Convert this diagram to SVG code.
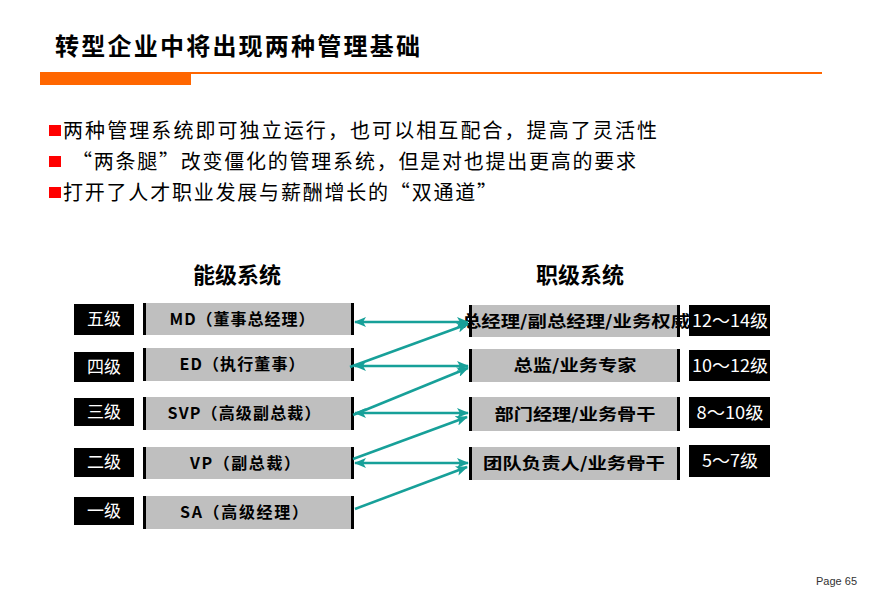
<svg xmlns="http://www.w3.org/2000/svg" width="870" height="592" viewBox="0 0 870 592">
<defs>
<style>
.t{font-family:"Noto Sans CJK SC","Liberation Serif",serif;}
.title{font-size:24px;fill:#000;font-weight:bold;}
.bul{font-size:20px;fill:#000;}
.head{font-size:22px;font-weight:bold;fill:#000;}
.lbl{font-size:17px;fill:#fff;}
.box{font-size:16px;font-weight:bold;fill:#000;}
.gray{fill:#bfbfbf;}
.blk{fill:#000;}
.bar{fill:#000;}
.conn{stroke:#17a099;stroke-width:2.5;fill:none;}
</style>
<marker id="ah" viewBox="0 0 12 10" refX="11" refY="5" markerWidth="12" markerHeight="10" markerUnits="userSpaceOnUse" orient="auto-start-reverse">
<path d="M0,0 L12,5 L0,10 L3,5 z" fill="#17a099"/>
</marker>
</defs>
<rect width="870" height="592" fill="#fff"/>
<g id="header">
<text class="t title" x="55" y="55" textLength="365" lengthAdjust="spacing">转型企业中将出现两种管理基础</text>
<rect x="40" y="72" width="782" height="2" fill="#ff6600"/>
<rect x="40" y="72" width="151" height="13" fill="#ff6600"/>
</g>
<g id="bullets">
<rect x="49" y="125" width="12" height="11" fill="#ff0000"/>
<text class="t bul" x="63" y="138" textLength="594" lengthAdjust="spacing">两种管理系统即可独立运行，也可以相互配合，提高了灵活性</text>
<rect x="49" y="156" width="12" height="11" fill="#ff0000"/>
<text class="t bul" x="72" y="169" textLength="564" lengthAdjust="spacing">“两条腿”改变僵化的管理系统，但是对也提出更高的要求</text>
<rect x="49" y="187" width="12" height="11" fill="#ff0000"/>
<text class="t bul" x="63" y="200" textLength="434" lengthAdjust="spacing">打开了人才职业发展与薪酬增长的“双通道”</text>
</g>
<g id="headings">
<text class="t head" x="237" y="283" text-anchor="middle">能级系统</text>
<text class="t head" x="580" y="283" text-anchor="middle">职级系统</text>
</g>
<g id="left-levels">
<g id="lvl5"><rect class="blk" x="74" y="304" width="60" height="31"/><text class="t lbl" x="104" y="325" text-anchor="middle">五级</text></g>
<g id="lvl4"><rect class="blk" x="74" y="352" width="60" height="30"/><text class="t lbl" x="104" y="373" text-anchor="middle">四级</text></g>
<g id="lvl3"><rect class="blk" x="74" y="398" width="60" height="28"/><text class="t lbl" x="104" y="418" text-anchor="middle">三级</text></g>
<g id="lvl2"><rect class="blk" x="74" y="448" width="60" height="29"/><text class="t lbl" x="104" y="468" text-anchor="middle">二级</text></g>
<g id="lvl1"><rect class="blk" x="74" y="497" width="60" height="28"/><text class="t lbl" x="104" y="517" text-anchor="middle">一级</text></g>
</g>
<g id="left-boxes">
<g id="md"><rect class="gray" x="144" y="303" width="209" height="32"/><rect class="bar" x="143" y="303" width="3" height="32"/><rect class="bar" x="351" y="303" width="3" height="32"/><text class="t box" x="242" y="325" text-anchor="middle" textLength="145" lengthAdjust="spacing">MD（董事总经理）</text></g>
<g id="ed"><rect class="gray" x="144" y="348" width="209" height="33"/><rect class="bar" x="143" y="348" width="3" height="33"/><rect class="bar" x="351" y="348" width="3" height="33"/><text class="t box" x="242" y="370" text-anchor="middle" textLength="125" lengthAdjust="spacing">ED（执行董事）</text></g>
<g id="svp"><rect class="gray" x="144" y="397" width="209" height="33"/><rect class="bar" x="143" y="397" width="3" height="33"/><rect class="bar" x="351" y="397" width="3" height="33"/><text class="t box" x="244" y="419" text-anchor="middle" textLength="153" lengthAdjust="spacing">SVP（高级副总裁）</text></g>
<g id="vp"><rect class="gray" x="144" y="447" width="209" height="32"/><rect class="bar" x="143" y="447" width="3" height="32"/><rect class="bar" x="351" y="447" width="3" height="32"/><text class="t box" x="245" y="469" text-anchor="middle" textLength="110" lengthAdjust="spacing">VP（副总裁）</text></g>
<g id="sa"><rect class="gray" x="144" y="496" width="209" height="33"/><rect class="bar" x="143" y="496" width="3" height="33"/><rect class="bar" x="351" y="496" width="3" height="33"/><text class="t box" x="244" y="518" text-anchor="middle" textLength="128" lengthAdjust="spacing">SA（高级经理）</text></g>
</g>
<g id="right-boxes">
<g id="r1"><rect class="gray" x="470" y="305" width="209" height="32"/><rect class="bar" x="469" y="305" width="3" height="32"/><rect class="bar" x="677" y="305" width="3" height="32"/><text class="t box" x="576" y="327" text-anchor="middle" textLength="228" lengthAdjust="spacingAndGlyphs">总经理/副总经理/业务权威</text></g>
<g id="r2"><rect class="gray" x="470" y="349" width="209" height="33"/><rect class="bar" x="469" y="349" width="3" height="33"/><rect class="bar" x="677" y="349" width="3" height="33"/><text class="t box" x="575" y="371" text-anchor="middle" textLength="123" lengthAdjust="spacingAndGlyphs">总监/业务专家</text></g>
<g id="r3"><rect class="gray" x="470" y="397" width="209" height="34"/><rect class="bar" x="469" y="397" width="3" height="34"/><rect class="bar" x="677" y="397" width="3" height="34"/><text class="t box" x="575" y="420" text-anchor="middle" textLength="161" lengthAdjust="spacingAndGlyphs">部门经理/业务骨干</text></g>
<g id="r4"><rect class="gray" x="470" y="447" width="209" height="33"/><rect class="bar" x="469" y="447" width="3" height="33"/><rect class="bar" x="677" y="447" width="3" height="33"/><text class="t box" x="574" y="469" text-anchor="middle" textLength="182" lengthAdjust="spacingAndGlyphs">团队负责人/业务骨干</text></g>
</g>
<g id="right-grades">
<g id="g1"><rect class="blk" x="689" y="305" width="81" height="31"/><text class="t lbl" x="730" y="327" text-anchor="middle" textLength="76" lengthAdjust="spacingAndGlyphs">12～14级</text></g>
<g id="g2"><rect class="blk" x="689" y="350" width="81" height="31"/><text class="t lbl" x="730" y="372" text-anchor="middle" textLength="76" lengthAdjust="spacingAndGlyphs">10～12级</text></g>
<g id="g3"><rect class="blk" x="689" y="397" width="81" height="31"/><text class="t lbl" x="730" y="419" text-anchor="middle" textLength="67" lengthAdjust="spacingAndGlyphs">8～10级</text></g>
<g id="g4"><rect class="blk" x="689" y="445" width="81" height="32"/><text class="t lbl" x="730" y="467" text-anchor="middle" textLength="56" lengthAdjust="spacingAndGlyphs">5～7级</text></g>
</g>
<g id="connectors">
<line class="conn" x1="355" y1="322" x2="468" y2="322" marker-start="url(#ah)" marker-end="url(#ah)"/>
<line class="conn" x1="355" y1="366" x2="468" y2="366" marker-start="url(#ah)" marker-end="url(#ah)"/>
<line class="conn" x1="355" y1="413" x2="468" y2="413" marker-start="url(#ah)" marker-end="url(#ah)"/>
<line class="conn" x1="355" y1="463" x2="468" y2="463" marker-start="url(#ah)" marker-end="url(#ah)"/>
<line class="conn" x1="350" y1="367" x2="468" y2="324" marker-end="url(#ah)"/>
<line class="conn" x1="353" y1="415" x2="468" y2="368" marker-end="url(#ah)"/>
<line class="conn" x1="353" y1="459" x2="467" y2="417" marker-end="url(#ah)"/>
<line class="conn" x1="355" y1="509" x2="467" y2="467" marker-end="url(#ah)"/>
</g>
<text x="857" y="585" text-anchor="end" font-family="Liberation Sans, Arial, sans-serif" font-size="11" fill="#333">Page 65</text>
</svg>
